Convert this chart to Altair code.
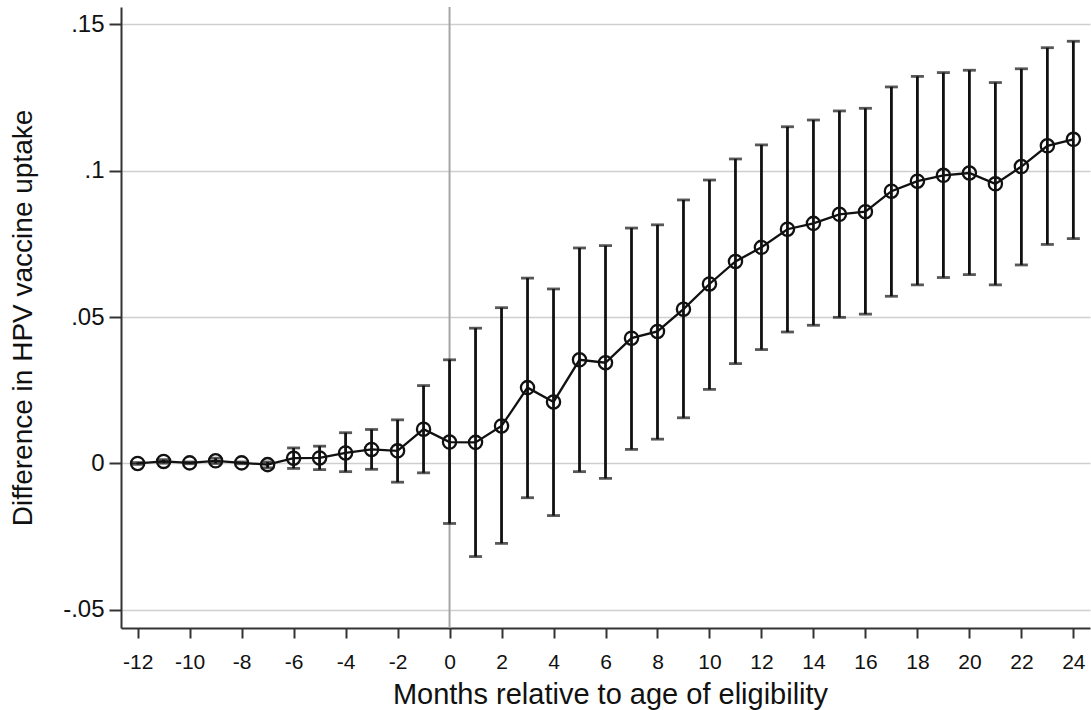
import altair as alt
import pandas as pd

months = list(range(-12, 25))
coef = [0.0, 0.0007, 0.0002, 0.0009, 0.0002, -0.0004, 0.0018, 0.0019, 0.0036, 0.0048,
        0.0043, 0.0117, 0.0073, 0.0072, 0.0128, 0.0259, 0.0210, 0.0354, 0.0344, 0.0428,
        0.0451, 0.0527, 0.0613, 0.0690, 0.0738, 0.0800, 0.0820, 0.0851, 0.0860, 0.0930,
        0.0964, 0.0984, 0.0992, 0.0955, 0.1014, 0.1085, 0.1107]
lower = [-0.0003, 0.0001, -0.0001, 0.0000, -0.0001, -0.0015, -0.0017, -0.0021, -0.0028, -0.0020,
         -0.0064, -0.0032, -0.0205, -0.0318, -0.0273, -0.0117, -0.0178, -0.0028, -0.0051, 0.0048,
         0.0083, 0.0156, 0.0253, 0.0341, 0.0389, 0.0449, 0.0472, 0.0499, 0.0510, 0.0571,
         0.0610, 0.0635, 0.0645, 0.0610, 0.0678, 0.0748, 0.0768]
upper = [0.0003, 0.0013, 0.0005, 0.0018, 0.0005, 0.0005, 0.0053, 0.0059, 0.0105, 0.0116,
         0.0149, 0.0266, 0.0354, 0.0462, 0.0532, 0.0633, 0.0596, 0.0736, 0.0744, 0.0804,
         0.0815, 0.0900, 0.0968, 0.1040, 0.1088, 0.1150, 0.1173, 0.1204, 0.1213, 0.1286,
         0.1322, 0.1335, 0.1343, 0.1301, 0.1348, 0.1420, 0.1442]

x_ticks = list(range(-12, 25, 2))
y_ticks = [-0.05, 0.0, 0.05, 0.10, 0.15]

df = pd.DataFrame({"month": months, "coef": coef, "lo": lower, "hi": upper})

FONT = "Liberation Sans"
xscale = alt.Scale(domain=[-12.64, 24.64], nice=False, zero=False)
yscale = alt.Scale(domain=[-0.0562, 0.1559], nice=False, zero=False)

xaxis = alt.Axis(
    values=x_ticks, grid=False, title="Months relative to age of eligibility",
    labelExpr="'' + datum.value",
    labelFont=FONT, labelFontSize=21, labelColor="#111111", labelPadding=13,
    labelFlush=False, tickSize=10, tickWidth=2, tickColor="#333333",
    domainColor="#333333", domainWidth=2,
    titleFont=FONT, titleFontSize=29, titleFontWeight="normal", titleColor="#111111",
    titleX=489, titleY=75, titleBaseline="alphabetic", titleAnchor="middle",
)
yaxis = alt.Axis(
    values=y_ticks, grid=True, gridColor="#cfcfcf", gridWidth=1.5,
    labelExpr="replace(replace(format(datum.value, '.2~f'), '0.', '.'), '\u2212', '-')",
    title="Difference in HPV vaccine uptake",
    labelFont=FONT, labelFontSize=24, labelColor="#111111", labelPadding=5,
    tickSize=12, tickWidth=2, tickColor="#333333",
    domainColor="#333333", domainWidth=2,
    titleFont=FONT, titleFontSize=28, titleFontWeight="normal", titleColor="#111111",
    titleAngle=270, titleX=-98, titleY=310.5, titleBaseline="middle", titleAlign="center",
)

X = alt.X("month:Q", scale=xscale, axis=xaxis)

vline = alt.Chart(pd.DataFrame({"month": [0]})).mark_rule(
    color="#a6a6a6", strokeWidth=2
).encode(x=X)

bars = alt.Chart(df).mark_rule(color="#111111", strokeWidth=2.8).encode(
    x=X,
    y=alt.Y("lo:Q", scale=yscale, axis=yaxis),
    y2="hi:Q",
)

caps = alt.Chart(df).transform_fold(["lo", "hi"], as_=["end", "val"]).mark_tick(
    orient="horizontal", color="#111111", size=13, thickness=2.8
).encode(
    x=X,
    y=alt.Y("val:Q", scale=yscale, axis=yaxis),
)

line = alt.Chart(df).mark_line(color="#111111", strokeWidth=2.3).encode(
    x=X,
    y=alt.Y("coef:Q", scale=yscale, axis=yaxis),
)

points = alt.Chart(df).mark_point(
    shape="circle", filled=False, size=175, strokeWidth=2.3, color="#111111", opacity=1
).encode(
    x=X,
    y=alt.Y("coef:Q", scale=yscale, axis=yaxis),
)

chart = alt.layer(vline, bars, caps, line, points).properties(
    width=969, height=621,
    autosize=alt.AutoSizeParams(type="none"),
    padding={"left": 121, "top": 7, "right": 1, "bottom": 82},
    background="white",
).configure_view(stroke=None)

chart.save("out.html", embed_options={"renderer": "svg", "actions": False})
